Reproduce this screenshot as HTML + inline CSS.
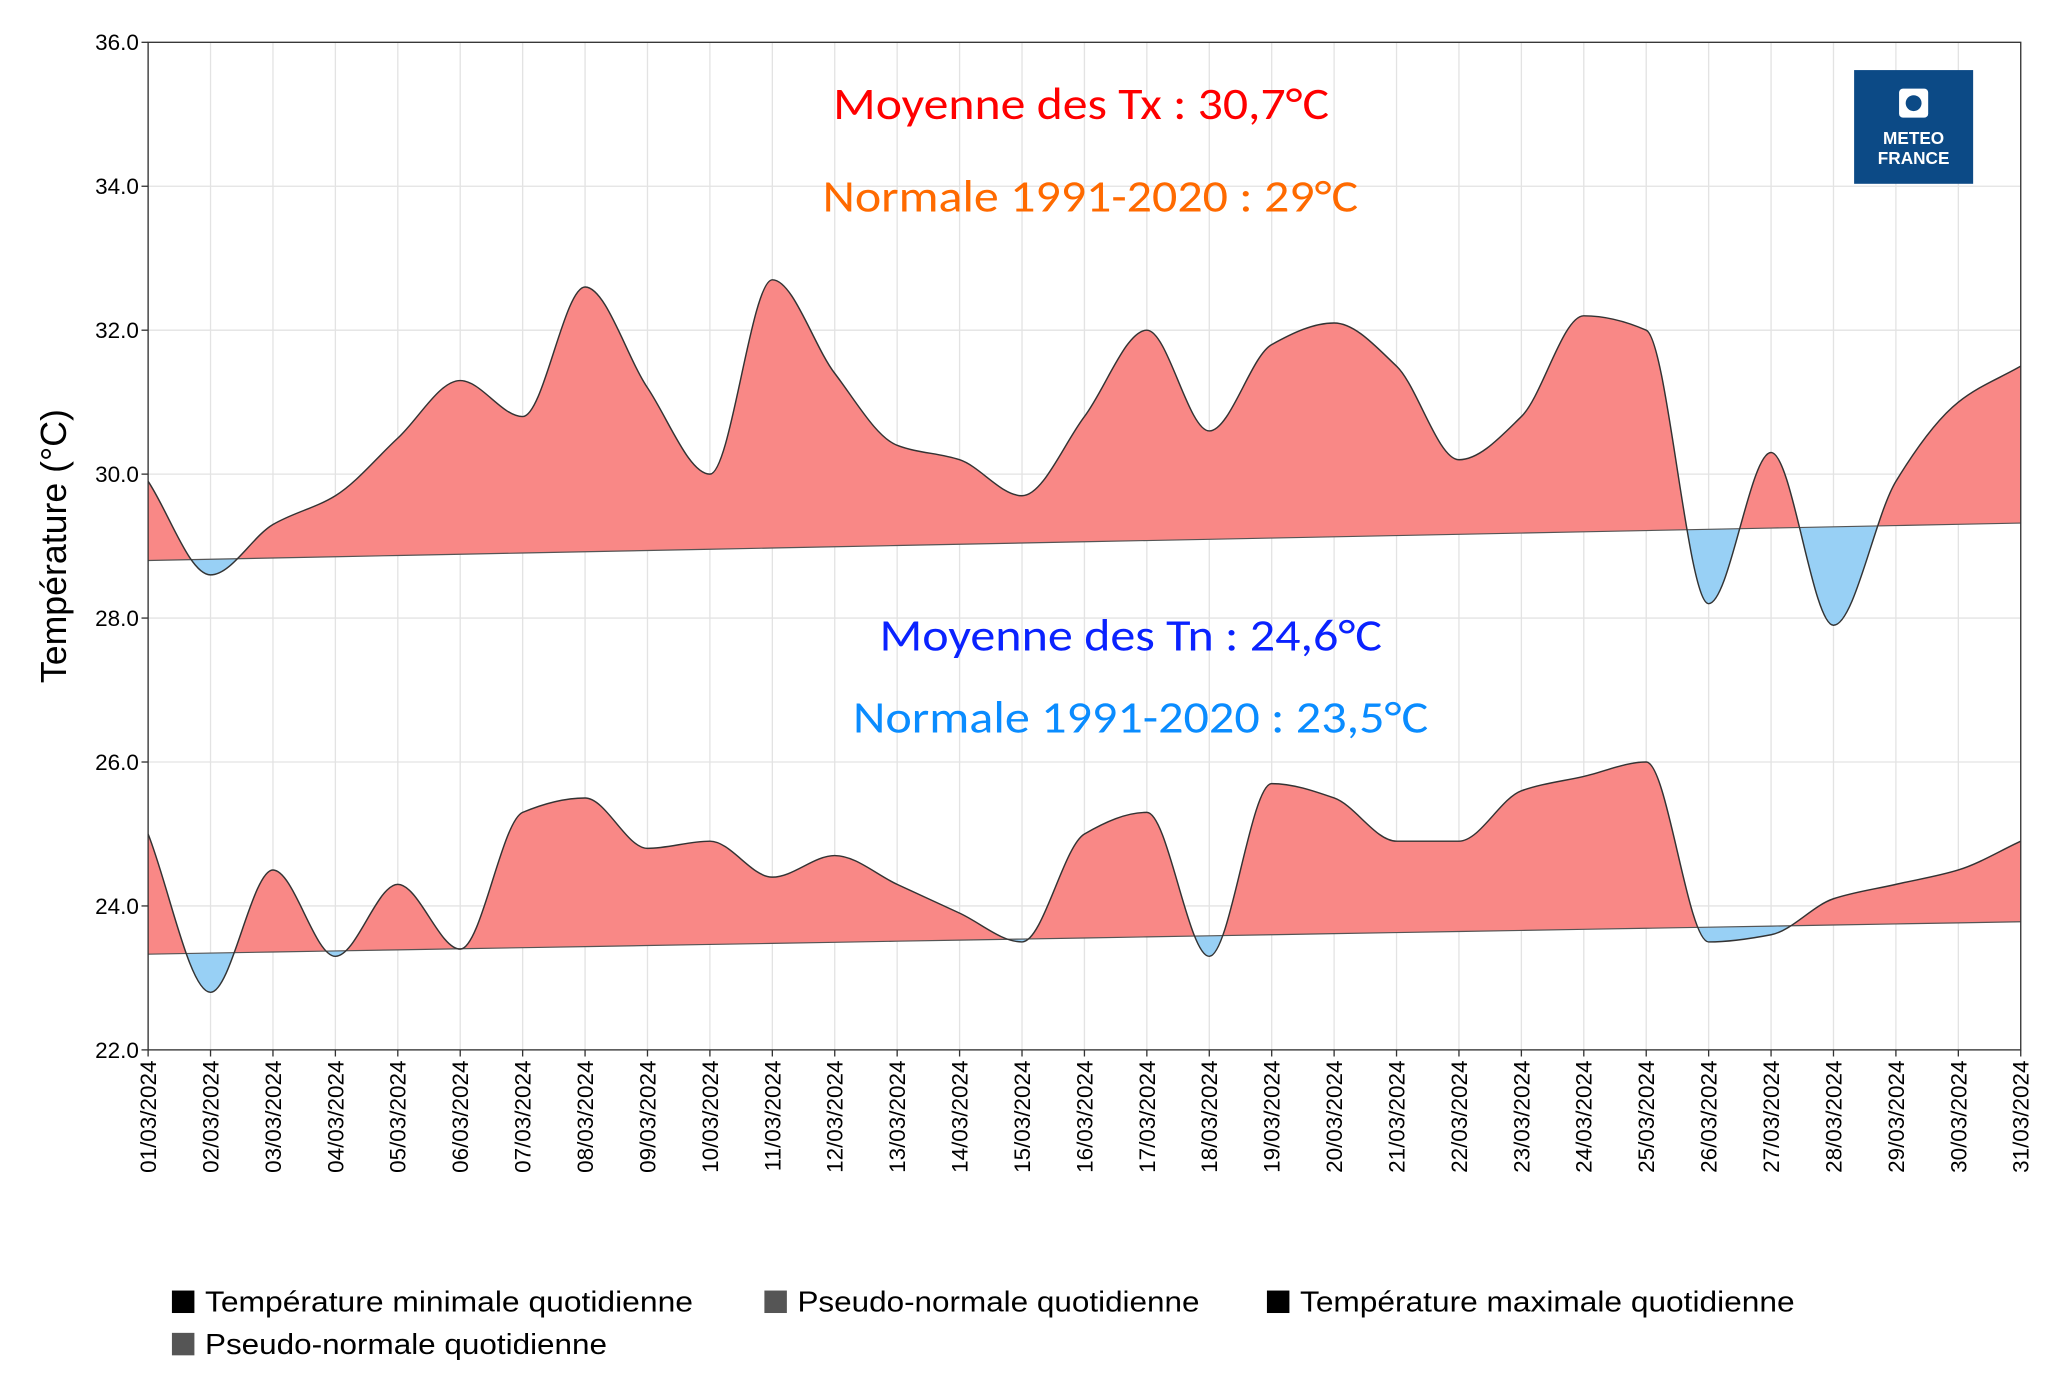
<!DOCTYPE html>
<html><head><meta charset="utf-8"><style>
html,body{margin:0;padding:0;background:#fff;width:2071px;height:1395px;overflow:hidden}
svg{display:block}
</style></head><body>
<svg id="s" width="2071" height="1395" viewBox="0 0 1566 1055" preserveAspectRatio="none" xmlns="http://www.w3.org/2000/svg"></svg>
<script>
const X0=112,X1=1528,Y0=32,Y1=794;
const xs=i=>X0+i*(X1-X0)/30;
const ys=v=>Y1-(v-22)*(Y1-Y0)/14;
const tx=[29.9,28.6,29.3,29.7,30.5,31.3,30.8,32.6,31.2,30.0,32.7,31.4,30.4,30.2,29.7,30.8,32.0,30.6,31.8,32.1,31.5,30.2,30.8,32.2,32.0,28.2,30.3,27.9,29.9,31.0,31.5];
const tn=[25.0,22.8,24.5,23.3,24.3,23.4,25.3,25.5,24.8,24.9,24.4,24.7,24.3,23.9,23.5,25.0,25.3,23.3,25.7,25.5,24.9,24.9,25.6,25.8,26.0,23.5,23.6,24.1,24.3,24.5,24.9];
const nx=[],nn=[];for(let i=0;i<31;i++){nx.push(28.8+0.52*i/30);nn.push(23.33+0.45*i/30);}
function spline(arr){
 const p=arr.map((v,i)=>[xs(i),ys(v)]);const n=p.length;const h=p[1][0]-p[0][0];
 const d=[];for(let i=0;i<n-1;i++)d.push((p[i+1][1]-p[i][1])/h);
 const m=[];m[0]=d[0];m[n-1]=d[n-2];
 for(let i=1;i<n-1;i++){if(d[i-1]*d[i]<=0)m[i]=0;else m[i]=2/(1/d[i-1]+1/d[i]);}
 let s=`M${p[0][0]},${p[0][1]}`;
 for(let i=0;i<n-1;i++){s+=`C${p[i][0]+h/3},${p[i][1]+m[i]*h/3} ${p[i+1][0]-h/3},${p[i+1][1]-m[i+1]*h/3} ${p[i+1][0]},${p[i+1][1]}`;}
 return s;}
function line(arr){return arr.map((v,i)=>(i?'L':'M')+xs(i)+','+ys(v)).join('');}
let h='';
for(let i=0;i<31;i++)h+=`<line x1="${xs(i)}" y1="${Y0}" x2="${xs(i)}" y2="${Y1}" stroke="#e3e3e3" stroke-width="1"/>`;
for(let v=22;v<=36;v+=2)h+=`<line x1="${X0}" y1="${ys(v)}" x2="${X1}" y2="${ys(v)}" stroke="#e3e3e3" stroke-width="1"/>`;
function band(arr,nrm,id){
 const nl=line(nrm);const rev=nrm.map((v,i)=>[xs(i),ys(v)]).reverse().map(p=>'L'+p[0]+','+p[1]).join('');
 h+=`<clipPath id="a${id}"><path d="${nl}L${X1},0L${X0},0Z"/></clipPath><clipPath id="b${id}"><path d="${nl}L${X1},1000L${X0},1000Z"/></clipPath>`;
 const sp=spline(arr);const area=sp+rev+'Z';
 h+=`<path d="${area}" fill="#f98886" clip-path="url(#a${id})"/>`;
 h+=`<path d="${area}" fill="#98d0f5" clip-path="url(#b${id})"/>`;
 h+=`<path d="${nl}" fill="none" stroke="#555" stroke-width="0.9"/>`;
 h+=`<path d="${sp}" fill="none" stroke="#333" stroke-width="1.1"/>`;
}
band(tx,nx,1);band(tn,nn,2);
h+=`<rect x="${X0}" y="${Y0}" width="${X1-X0}" height="${Y1-Y0}" fill="none" stroke="#333" stroke-width="1"/>`;
for(let v=22;v<=36;v+=2){h+=`<line x1="${X0-5}" y1="${ys(v)}" x2="${X0}" y2="${ys(v)}" stroke="#333"/><text x="${X0-7}" y="${ys(v)+6}" text-anchor="end" font-size="17" font-family="Liberation Sans,sans-serif">${v.toFixed(1)}</text>`;}
for(let i=0;i<31;i++){const x=xs(i);const d=String(i+1).padStart(2,'0')+'/03/2024';
h+=`<line x1="${x}" y1="${Y1}" x2="${x}" y2="${Y1+5}" stroke="#333"/><text transform="translate(${x+6},${Y1+8}) rotate(-90)" text-anchor="end" font-size="17" font-family="Liberation Sans,sans-serif">${d}</text>`;}
h+=`<text transform="translate(50,413) rotate(-90)" text-anchor="middle" font-size="27" font-family="Liberation Sans,sans-serif">Température (°C)</text>`;
const F='Carlito,Liberation Sans,sans-serif';
const T=[[630,375,90,'#ff0000','Moyenne des Tx : 30,7°C'],[622,405,160,'#ff6a00','Normale 1991-2020 : 29°C'],[665,380,492,'#0a22ff','Moyenne des Tn : 24,6°C'],[645,435,554,'#0a8cff','Normale 1991-2020 : 23,5°C']];
for(const [x,w,y,c,t] of T)h+=`<text x="${x}" y="${y}" textLength="${w}" lengthAdjust="spacingAndGlyphs" font-size="34" fill="${c}" font-family="${F}">${t}</text>`;
h+=`<rect x="1402" y="53" width="90" height="86" fill="#0c4a86"/><rect x="1436" y="67" width="22" height="22" rx="3" fill="#fff"/><circle cx="1447" cy="78" r="6" fill="#0c4a86"/>`;
h+=`<text x="1447" y="109" text-anchor="middle" font-size="13" font-weight="bold" fill="#fff" font-family="Liberation Sans,sans-serif">METEO</text><text x="1447" y="124" text-anchor="middle" font-size="13" font-weight="bold" fill="#fff" font-family="Liberation Sans,sans-serif">FRANCE</text>`;
const L=[[130,985,'#000','Température minimale quotidienne',369],[578,985,'#555','Pseudo-normale quotidienne',304],[958,985,'#000','Température maximale quotidienne',374],[130,1017,'#555','Pseudo-normale quotidienne',304]];
for(const [x,y,c,t,w] of L)h+=`<rect x="${x}" y="${y-9}" width="17" height="17" fill="${c}"/><text x="${x+25}" y="${y+7}" textLength="${w}" lengthAdjust="spacingAndGlyphs" font-size="22" font-family="Liberation Sans,sans-serif">${t}</text>`;
document.getElementById('s').innerHTML=h;
</script>
</body></html>
